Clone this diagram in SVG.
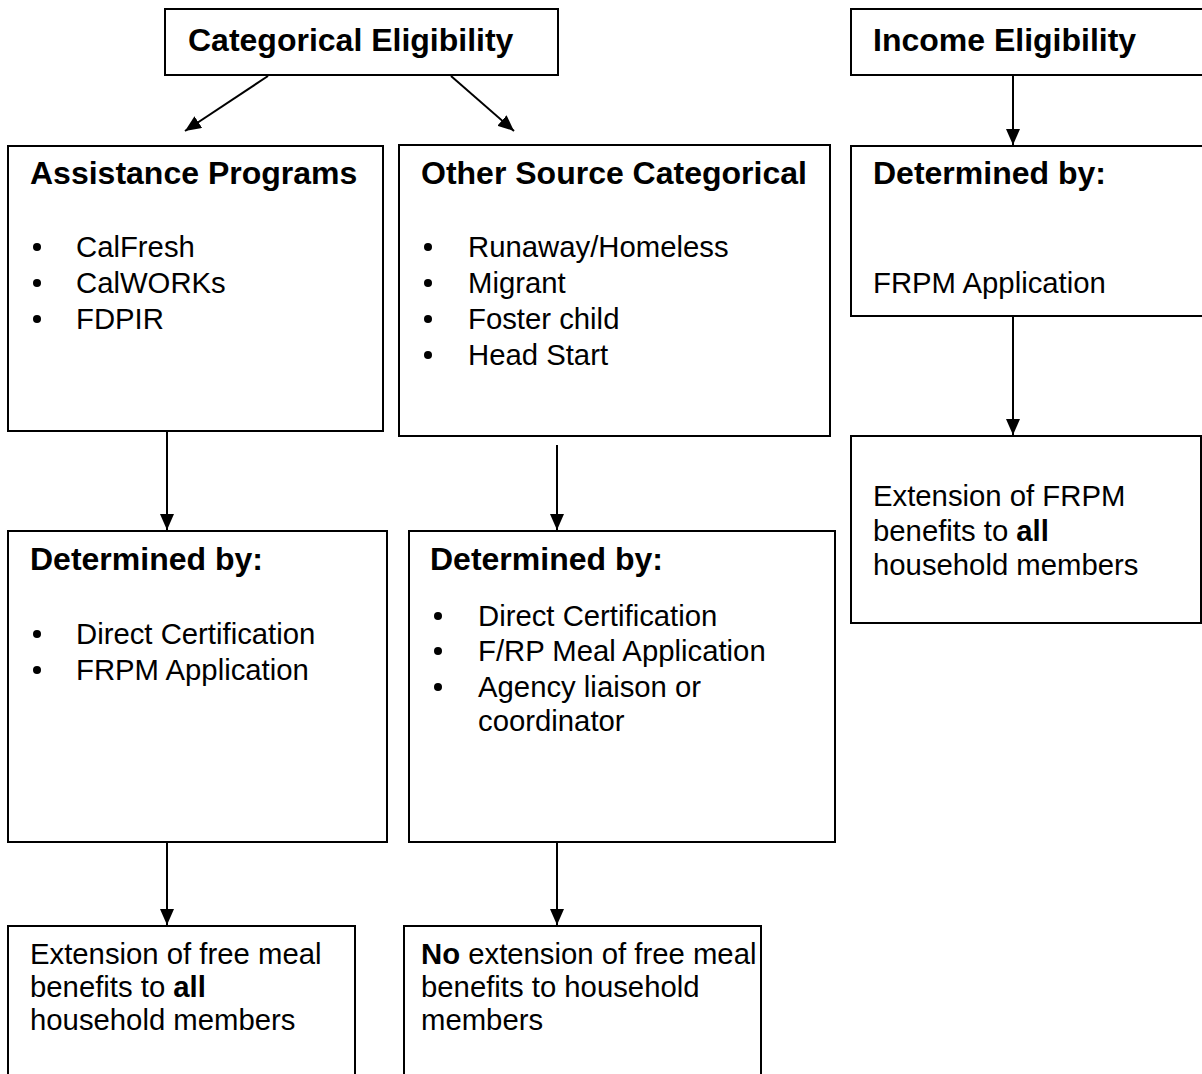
<svg xmlns="http://www.w3.org/2000/svg" width="1202" height="1074" viewBox="0 0 1202 1074">
<defs>
<style>
.box{fill:#fff;stroke:#000;stroke-width:2}
.h{font-family:"Liberation Sans",Arial,sans-serif;font-weight:bold;font-size:32px;fill:#000}
.t{font-family:"Liberation Sans",Arial,sans-serif;font-size:29.3px;fill:#000}
.b{font-weight:bold}
.c{stroke:#000;stroke-width:2;fill:none;marker-end:url(#ah)}
</style>
<marker id="ah" viewBox="0 0 16 14" refX="16" refY="7" markerWidth="16" markerHeight="14" markerUnits="userSpaceOnUse" orient="auto">
<path d="M0,0 L16,7 L0,14 Z" fill="#000"/>
</marker>
<circle id="dot" r="4" fill="#000"/>
</defs>
<rect width="1202" height="1074" fill="#fff"/>
<g id="connectors">
<line class="c" x1="268" y1="76" x2="185" y2="131"/>
<line class="c" x1="451" y1="76" x2="514" y2="131"/>
<line class="c" x1="1013" y1="75" x2="1013" y2="145"/>
<line class="c" x1="1013" y1="317" x2="1013" y2="435"/>
<line class="c" x1="167" y1="432" x2="167" y2="530"/>
<line class="c" x1="557" y1="445" x2="557" y2="530"/>
<line class="c" x1="167" y1="842" x2="167" y2="925"/>
<line class="c" x1="557" y1="842" x2="557" y2="925"/>
</g>
<g id="categorical">
<rect class="box" x="165" y="9" width="393" height="66"/>
<text class="h" x="188" y="51">Categorical Eligibility</text>
</g>
<g id="income">
<rect class="box" x="851" y="9" width="360" height="66"/>
<text class="h" x="873" y="51">Income Eligibility</text>
</g>
<g id="assistance">
<rect class="box" x="8" y="146" width="375" height="285"/>
<text class="h" x="30" y="184">Assistance Programs</text>
<use href="#dot" x="37" y="247"/><text class="t" x="76" y="257">CalFresh</text>
<use href="#dot" x="37" y="283"/><text class="t" x="76" y="293">CalWORKs</text>
<use href="#dot" x="37" y="319"/><text class="t" x="76" y="329">FDPIR</text>
</g>
<g id="othersource">
<rect class="box" x="399" y="145" width="431" height="291"/>
<text class="h" x="421" y="184">Other Source Categorical</text>
<use href="#dot" x="428" y="247"/><text class="t" x="468" y="257">Runaway/Homeless</text>
<use href="#dot" x="428" y="283"/><text class="t" x="468" y="293">Migrant</text>
<use href="#dot" x="428" y="319"/><text class="t" x="468" y="329">Foster child</text>
<use href="#dot" x="428" y="355"/><text class="t" x="468" y="365">Head Start</text>
</g>
<g id="incomedetermined">
<rect class="box" x="851" y="146" width="360" height="170"/>
<text class="h" x="873" y="184">Determined by:</text>
<text class="t" x="873" y="293">FRPM Application</text>
</g>
<g id="incomeextension">
<rect class="box" x="851" y="436" width="350" height="187"/>
<text class="t" x="873" y="506">Extension of FRPM</text>
<text class="t" x="873" y="541">benefits to <tspan class="b">all</tspan></text>
<text class="t" x="873" y="575">household members</text>
</g>
<g id="assistdetermined">
<rect class="box" x="8" y="531" width="379" height="311"/>
<text class="h" x="30" y="570">Determined by:</text>
<use href="#dot" x="37" y="634"/><text class="t" x="76" y="644">Direct Certification</text>
<use href="#dot" x="37" y="670"/><text class="t" x="76" y="680">FRPM Application</text>
</g>
<g id="otherdetermined">
<rect class="box" x="409" y="531" width="426" height="311"/>
<text class="h" x="430" y="570">Determined by:</text>
<use href="#dot" x="438" y="616"/><text class="t" x="478" y="626">Direct Certification</text>
<use href="#dot" x="438" y="651"/><text class="t" x="478" y="661">F/RP Meal Application</text>
<use href="#dot" x="438" y="687"/><text class="t" x="478" y="697">Agency liaison or</text>
<text class="t" x="478" y="731">coordinator</text>
</g>
<g id="assistextension">
<path class="box" d="M8,1080 V926 H355 V1080"/>
<text class="t" x="30" y="964">Extension of free meal</text>
<text class="t" x="30" y="997">benefits to <tspan class="b">all</tspan></text>
<text class="t" x="30" y="1030">household members</text>
</g>
<g id="otherextension">
<path class="box" d="M404,1080 V926 H761 V1080"/>
<text class="t" x="421" y="964"><tspan class="b">No</tspan> extension of free meal</text>
<text class="t" x="421" y="997">benefits to household</text>
<text class="t" x="421" y="1030">members</text>
</g>
</svg>
